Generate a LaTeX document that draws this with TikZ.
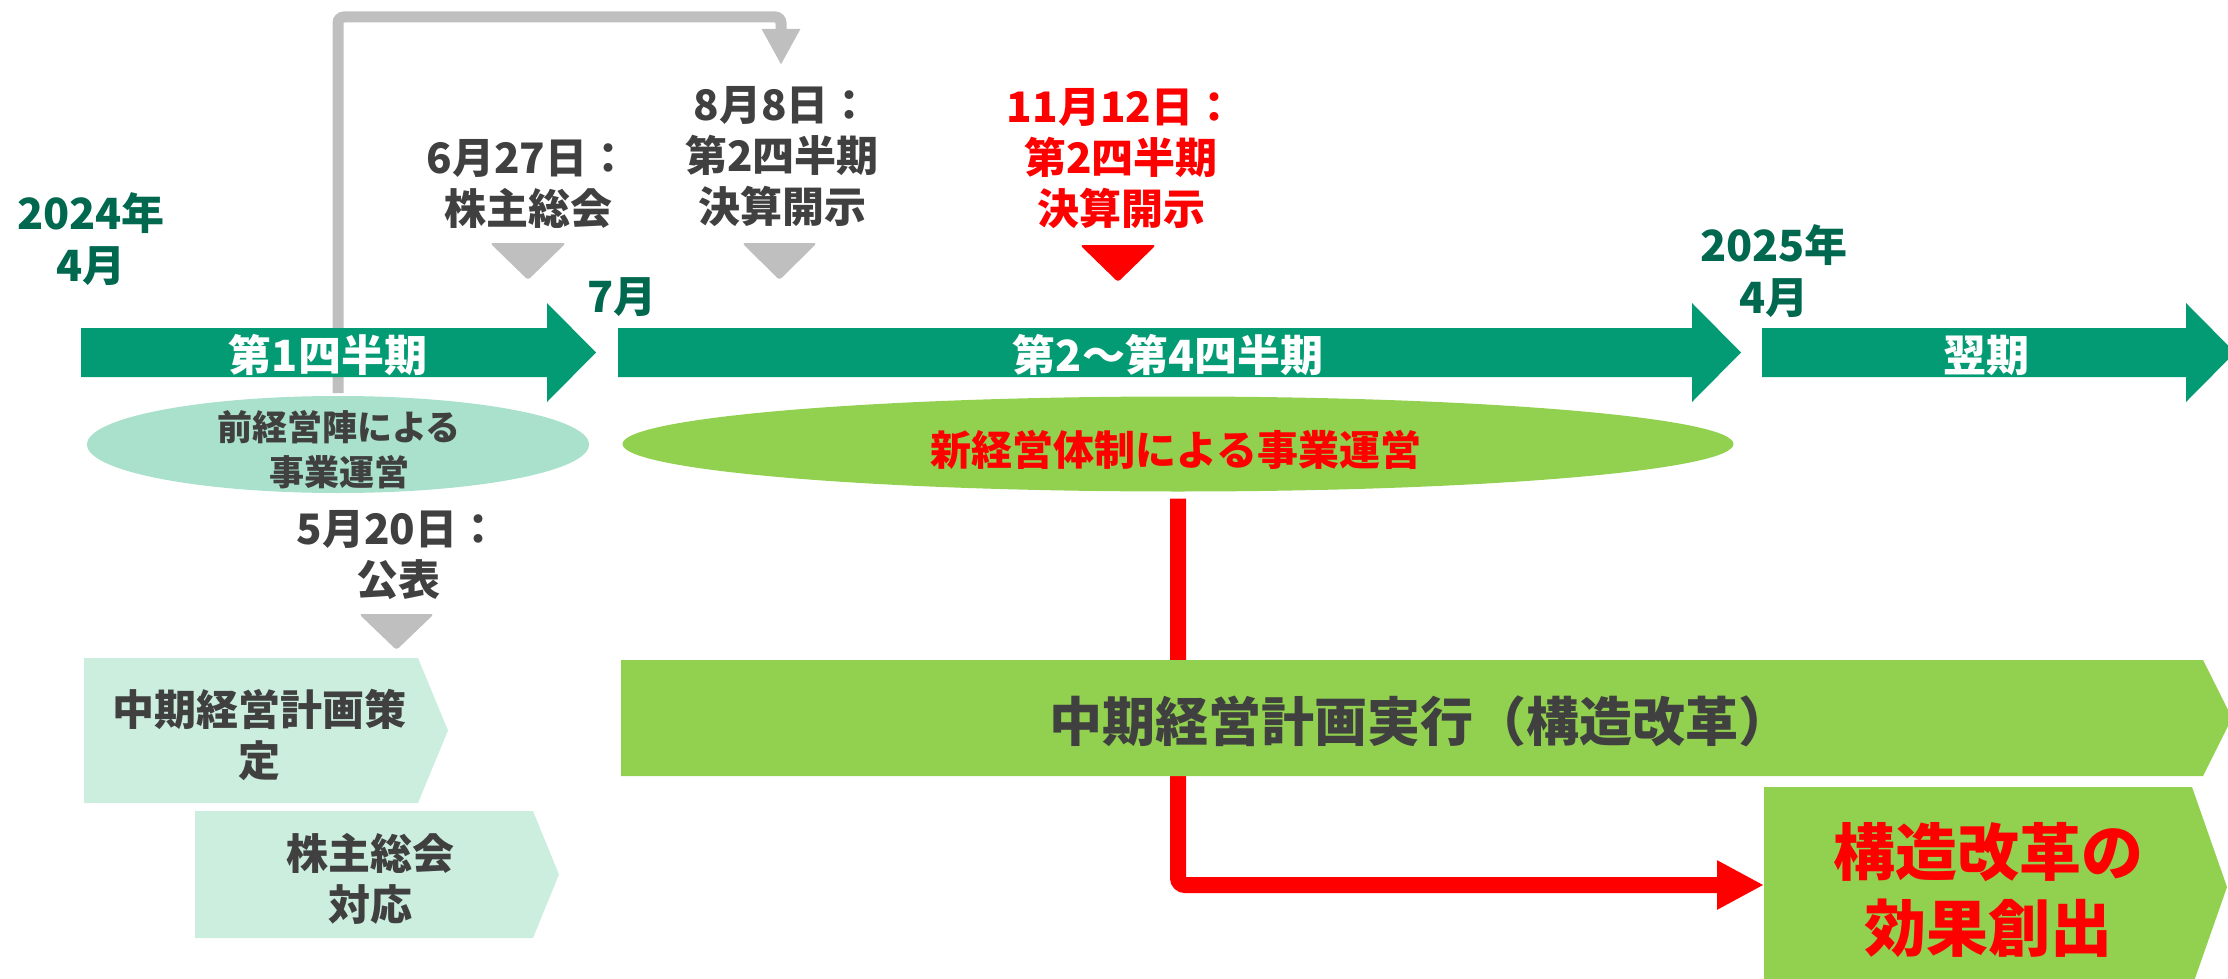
\documentclass[tikz,border=0pt]{standalone}
\usepackage{fontspec}
\setmainfont{Noto Sans CJK JP}[BoldFont=* Black]
\usetikzlibrary{arrows.meta,shapes.geometric}
\definecolor{arrowgreen}{HTML}{039B74}
\definecolor{darkgreen}{HTML}{00684F}
\definecolor{mintA}{HTML}{A9E1CC}
\definecolor{mintB}{HTML}{CCEEDF}
\definecolor{limegreen}{HTML}{92D050}
\definecolor{textgray}{HTML}{404040}
\definecolor{linegray}{HTML}{BFBFBF}
\definecolor{pured}{HTML}{FF0000}
\tikzset{
  txt/.style={inner sep=0pt, align=center},
  fsA/.style={font=\fontsize{42}{51}\selectfont\bfseries},
  datelab/.style={txt, fsA, text=textgray},
  yearlab/.style={txt, font=\fontsize{43}{52}\selectfont\bfseries, text=darkgreen},
  arrowlab/.style={txt, font=\fontsize{43}{52}\selectfont\bfseries, text=white},
  blockarrow/.style={fill=arrowgreen},
  marker/.style={fill=linegray, rounded corners=3pt},
  grayline/.style={draw=linegray, line width=11pt, rounded corners=6pt, -{Triangle[width=36pt,length=36pt]}},
  redline/.style={draw=pured, line width=16pt, rounded corners=7pt, -{Triangle[width=46pt,length=47pt]}},
}
\begin{document}
\begin{tikzpicture}[x=1pt,y=-1pt]
\useasboundingbox (0,0) rectangle (2228,979);
\clip (0,0) rectangle (2228,979);

\coordinate (gcorner) at (338,17);
\coordinate (gtip) at (781,65);
\coordinate (lbw) at (1764,885);

% gray connector (behind arrows)
\draw[grayline, shorten <=3pt] (338,396) coordinate (e1top) -- (gcorner) -| (gtip);

% block arrows
\fill[blockarrow] (81,328) -- (547,328) -- (547,303) -- (596,352.5) -- (547,402) -- (547,377) -- (81,377) -- cycle;
\fill[blockarrow] (618,328) -- (1692,328) -- (1692,303) -- (1741,352.5) -- (1692,402) -- (1692,377) -- (618,377) -- cycle;
\fill[blockarrow] (1762,328) -- (2186,328) -- (2186,303) -- (2235,352.5) -- (2186,402) -- (2186,377) -- (1762,377) -- cycle;
\node[arrowlab] (q1) at (328,355) {第1四半期};
\node[arrowlab] (q24) at (1168,355) {第2〜第4四半期};
\node[arrowlab] (q5) at (1986,355) {翌期};

% ellipses
\node[ellipse, fill=mintA, minimum width=502pt, minimum height=97pt, inner sep=0pt] (e1) at (338,444.5) {};
\node[ellipse, fill=limegreen, minimum width=1111pt, minimum height=95pt, inner sep=0pt] (e2) at (1178,444) {};
\node[txt, font=\fontsize{35}{45}\selectfont\bfseries, text=textgray] (e1t) at (339,449.5) {前経営陣による\\事業運営};
\node[txt, font=\fontsize{41}{50}\selectfont\bfseries, text=pured] (e2t) at (1176,450) {新経営体制による事業運営};

% red connector (behind the plan box)
\draw[redline, shorten <=7pt] (e2.south) |- (lbw);

% pentagon boxes
\fill[mintB] (84,658) -- (418,658) -- (448,730.5) -- (418,803) -- (84,803) -- cycle;
\fill[mintB] (195,811) -- (533,811) -- (559,874.5) -- (533,938) -- (195,938) -- cycle;
\fill[limegreen] (621,660) -- (2203,660) -- (2232,718) -- (2203,776) -- (621,776) -- cycle;
\fill[limegreen] (1764,787) -- (2192,787) -- (2227,887) -- (2192,987) -- (1764,987) -- cycle;
\node[datelab] (b1) at (259,735) {中期経営計画策\\定};
\node[datelab] (b2) at (370,879) {株主総会\\対応};
\node[txt, font=\fontsize{53}{60}\selectfont\bfseries, text=textgray] (b3) at (1420,721) {中期経営計画実行（構造改革）};
\node[txt, font=\fontsize{62}{76}\selectfont\bfseries, text=pured] (b4) at (1988,890) {構造改革の\\効果創出};

% triangles (markers)
\fill[marker] (490,243) -- (566,243) -- (528,280) -- cycle;
\fill[marker] (742,243) -- (817,243) -- (779.5,280) -- cycle;
\fill[fill=pured, rounded corners=3pt] (1080,245) -- (1156,245) -- (1118,282) -- cycle;
\fill[marker] (359,614) -- (434,614) -- (396.5,650) -- cycle;

% date labels
\node[yearlab] (y24) at (91,239) {2024年\\4月};
\node[yearlab] (y25) at (1774,271.5) {2025年\\4月};
\node[yearlab] (m7) at (622,297) {7月};
\node[datelab] (d627) at (528,184) {6月27日：\\株主総会};
\node[datelab] (d808) at (782,157) {8月8日：\\第2四半期\\決算開示};
\node[datelab, text=pured] (d1112) at (1121,159) {11月12日：\\第2四半期\\決算開示};
\node[datelab] (d520) at (398,555) {5月20日：\\公表};
\end{tikzpicture}
\end{document}
